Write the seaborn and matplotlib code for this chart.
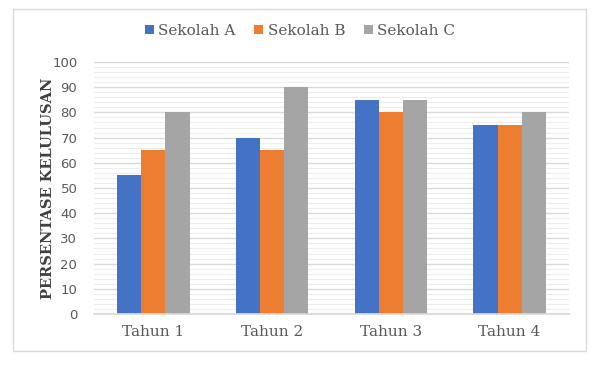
import matplotlib
matplotlib.use("Agg")
import matplotlib.pyplot as plt
import seaborn as sns
import pandas as pd
from matplotlib.patches import Rectangle

categories = ["Tahun 1", "Tahun 2", "Tahun 3", "Tahun 4"]
series_names = ["Sekolah A", "Sekolah B", "Sekolah C"]
sekolah_a = [55, 70, 85, 75]
sekolah_b = [65, 65, 80, 75]
sekolah_c = [80, 90, 85, 80]
colors = ["#4472C4", "#ED7D31", "#A5A5A5"]
yticks = list(range(0, 101, 10))

rows = []
for name, vals in zip(series_names, [sekolah_a, sekolah_b, sekolah_c]):
    for c, v in zip(categories, vals):
        rows.append({"Tahun": c, "Sekolah": name, "Nilai": v})
df = pd.DataFrame(rows)

sns.set_theme(style="white")
fig = plt.figure(figsize=(6.0, 3.69), dpi=100)
ax = fig.add_axes([94/600, 1-314/369, (569-94)/600, (314-62)/369])

sns.barplot(data=df, x="Tahun", y="Nilai", hue="Sekolah", palette=colors,
            width=0.61, gap=0, ax=ax, saturation=1, errorbar=None, legend=True,
            linewidth=0, edgecolor="none")

ax.set_ylim(0, 100)
ax.set_yticks(yticks)
ax.set_yticks(range(0, 101, 2), minor=True)
ax.grid(axis="y", which="major", color="#D9D9D9", linewidth=1.0)
ax.grid(axis="y", which="minor", color="#EDEDED", linewidth=0.8)
ax.set_axisbelow(True)
for s in ["top", "right", "left"]:
    ax.spines[s].set_visible(False)
ax.spines["bottom"].set_color("#D9D9D9")
ax.tick_params(axis="y", which="both", length=0, labelsize=9.5, labelcolor="#595959", pad=12)
ax.tick_params(axis="x", length=0, labelsize=11, labelcolor="#595959", pad=8)
for lab in ax.get_xticklabels():
    lab.set_family("DejaVu Serif")
ax.set_xlabel("")
ax.set_ylabel("PERSENTASE KELULUSAN", family="DejaVu Serif", fontweight="bold",
              fontsize=10.5, color="#404040", labelpad=-2)
ax.set_xlim(-0.5, 3.5)

handles, labels = ax.get_legend_handles_labels()
ax.legend_.remove()
fig.legend(handles, labels, loc="center", bbox_to_anchor=(0.5, 1-31/369), ncol=3,
           frameon=False, handlelength=0.6, handleheight=0.6, handletextpad=0.3,
           columnspacing=1.2, prop={"family": "DejaVu Serif", "size": 11},
           labelcolor="#595959")

fig.patches.append(Rectangle((13/600, 1-351/369), (586-13)/600, (351-9)/369,
                             transform=fig.transFigure, fill=False,
                             edgecolor="#D9D9D9", linewidth=1.0))

fig.savefig("out.png", dpi=100, facecolor="white")
